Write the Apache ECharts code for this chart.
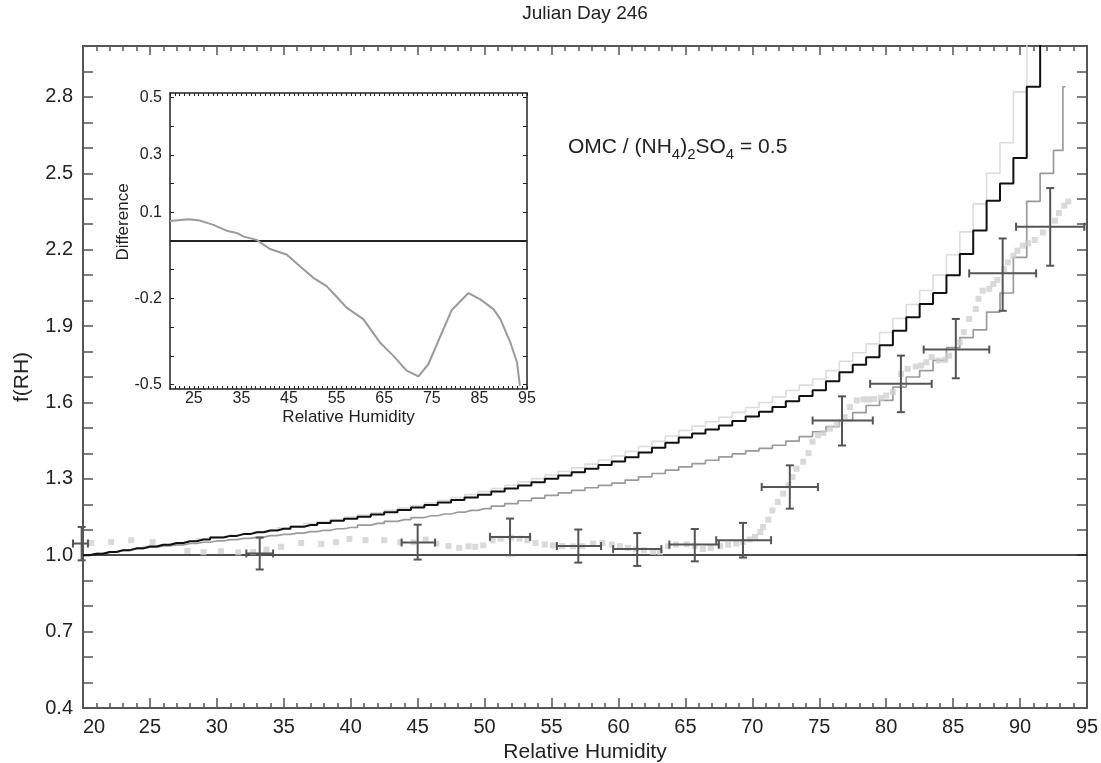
<!DOCTYPE html>
<html><head><meta charset="utf-8">
<script src="https://cdn.jsdelivr.net/npm/echarts@6/dist/echarts.min.js"></script>
<style>html,body{margin:0;padding:0;background:#fff}#c{width:1101px;height:763px}</style>
</head><body><div id="c"></div>
<script>
// ---------- data ----------
const rhGrid = [20,21,22,23,24,25,26,27,28,29,30,31,32,33,34,35,36,37,38,39,40,41,42,43,44,45,46,47,48,49,
  50,51,52,53,54,55,56,57,58,59,60,61,62,63,64,65,66,67,68,69,70,71,72,73,74,75,76,77,78,79,
  80,81,82,83,84,85,86,87,88,89,90,91,92,93];
const mediumRH = rhGrid.concat([93.4]);

const blackCurve = [1.000,1.006,1.013,1.020,1.027,1.034,1.041,1.048,1.055,1.062,
 1.070,1.076,1.083,1.090,1.097,1.104,1.112,1.119,1.127,1.135,
 1.143,1.151,1.160,1.169,1.178,1.187,1.197,1.207,1.217,1.227,
 1.238,1.250,1.262,1.274,1.287,1.300,1.313,1.326,1.340,1.354,
 1.368,1.385,1.403,1.422,1.442,1.462,1.478,1.494,1.510,1.527,
 1.545,1.564,1.582,1.605,1.625,1.648,1.683,1.719,1.748,1.778,
 1.825,1.882,1.935,1.987,2.030,2.100,2.183,2.275,2.392,2.460,
 2.560,2.840,3.050];

const lightCurve = [1.000,1.006,1.013,1.020,1.027,1.035,1.042,1.049,1.056,1.064,
 1.072,1.079,1.086,1.093,1.100,1.108,1.116,1.124,1.132,1.140,
 1.149,1.158,1.167,1.176,1.185,1.195,1.205,1.216,1.227,1.238,
 1.250,1.262,1.275,1.288,1.301,1.315,1.329,1.343,1.358,1.374,
 1.390,1.408,1.427,1.447,1.468,1.490,1.507,1.524,1.542,1.561,
 1.580,1.600,1.622,1.647,1.668,1.692,1.725,1.762,1.795,1.830,
 1.875,1.930,1.985,2.040,2.100,2.180,2.270,2.380,2.500,2.620,
 2.820,3.050];

const mediumCurve = [1.000,1.006,1.012,1.019,1.026,1.032,1.037,1.041,1.046,1.051,
 1.056,1.061,1.066,1.071,1.077,1.082,1.087,1.093,1.098,1.104,
 1.109,1.118,1.125,1.133,1.140,1.148,1.155,1.162,1.169,1.176,
 1.183,1.193,1.203,1.214,1.224,1.235,1.245,1.255,1.265,1.274,
 1.283,1.295,1.308,1.321,1.334,1.347,1.360,1.373,1.386,1.398,
 1.410,1.420,1.432,1.448,1.466,1.485,1.505,1.530,1.560,1.588,
 1.608,1.660,1.700,1.725,1.765,1.815,1.855,1.885,1.955,2.030,
 2.170,2.390,2.500,2.590,2.840];

// measured f(RH) points [RH, f]
const measured = [
 [20.6,1.048],[22.1,1.052],[23.6,1.059],[25.2,1.052],[27.8,1.017],[29.0,1.012],[30.3,1.016],[31.6,1.011],
 [32.7,1.013],[33.7,1.022],[34.8,1.033],[36.3,1.048],[37.8,1.044],[38.9,1.051],[39.9,1.064],[41.1,1.059],
 [42.5,1.059],[43.7,1.051],[44.7,1.051],[45.6,1.062],[46.4,1.046],[47.3,1.036],[48.1,1.029],[48.8,1.035],
 [49.3,1.033],[49.9,1.039],[50.6,1.059],[51.2,1.065],[52.0,1.069],[52.6,1.065],[53.2,1.059],[53.8,1.048],
 [54.5,1.042],[55.1,1.039],[55.8,1.036],[56.6,1.035],[57.3,1.036],[58.1,1.046],[58.8,1.048],[59.5,1.042],
 [60.1,1.036],[60.7,1.029],[61.3,1.024],[61.9,1.020],[62.6,1.013],[63.1,1.012],[63.7,1.035],[64.3,1.042],
 [65.1,1.043],[65.7,1.036],[66.3,1.024],[66.9,1.029],[67.6,1.036],[68.2,1.042],[68.8,1.046],[69.3,1.052],
 [69.8,1.062],[70.2,1.072],[70.6,1.091],[70.8,1.111],[71.2,1.140],[71.5,1.176],[71.9,1.209],[72.3,1.242],
 [72.7,1.275],[73.0,1.307],[73.3,1.340],[73.8,1.367],[74.2,1.401],[74.5,1.446],[74.9,1.471],[75.3,1.480],
 [75.8,1.497],[76.3,1.514],[76.9,1.542],[77.3,1.582],[77.8,1.608],[78.3,1.612],[78.7,1.612],[79.1,1.614],
 [79.6,1.618],[80.0,1.627],[80.5,1.640],[81.1,1.712],[81.6,1.732],[82.2,1.741],[82.6,1.745],[83.0,1.758],
 [83.4,1.778],[83.9,1.765],[84.4,1.767],[84.7,1.784],[85.5,1.836],[85.8,1.876],[86.2,1.928],[86.7,1.967],
 [86.9,2.007],[87.2,2.039],[87.7,2.046],[88.0,2.065],[88.3,2.081],[88.8,2.124],[89.1,2.150],[89.5,2.176],
 [89.8,2.196],[90.2,2.216],[90.6,2.225],[91.1,2.238],[91.7,2.268],[92.6,2.314],[92.9,2.344],[93.3,2.373],
 [93.6,2.389]
];

// error crosses [RH, f, RHlow, RHhigh, fLow, fHigh]
const errorBars = [
 [19.9,1.046,19.25,20.37,0.980,1.111],
 [33.2,1.007,32.2,34.2,0.944,1.069],
 [45.0,1.050,43.8,46.3,0.983,1.120],
 [51.9,1.072,50.4,53.4,1.000,1.144],
 [57.0,1.036,55.4,58.7,0.971,1.101],
 [61.4,1.024,59.6,63.2,0.958,1.087],
 [65.7,1.042,63.8,67.5,0.976,1.103],
 [69.3,1.059,67.3,71.4,0.991,1.127],
 [72.8,1.268,70.7,74.9,1.183,1.353],
 [76.7,1.529,74.5,79.0,1.431,1.624],
 [81.1,1.673,78.8,83.4,1.562,1.784],
 [85.2,1.808,82.8,87.7,1.695,1.928],
 [88.7,2.107,86.2,91.2,1.960,2.244],
 [92.25,2.290,89.7,94.8,2.137,2.442]
];

// inset difference curve [RH, difference]
const difference = [
 [20,0.070],[23.9,0.076],[26.3,0.071],[29.1,0.056],[31.9,0.036],[34.0,0.028],[35.4,0.016],[38.2,0.004],
 [41.0,-0.028],[44.5,-0.047],[47.3,-0.088],[50.1,-0.128],[52.9,-0.157],[55.0,-0.194],[57.1,-0.232],
 [60.6,-0.272],[64.1,-0.353],[66.9,-0.399],[69.7,-0.451],[72.2,-0.471],[74.3,-0.428],[76.4,-0.347],
 [79.2,-0.240],[82.7,-0.181],[85.2,-0.203],[88.0,-0.238],[89.4,-0.272],[91.5,-0.353],[92.9,-0.422],[93.5,-0.503]
];

const yTickLabels = [0.4,0.7,1.0,1.3,1.6,1.9,2.2,2.5,2.8];
const insetYTicks = [-0.5,-0.4,-0.3,-0.2,-0.1,0,0.1,0.2,0.3,0.4,0.5];
const insetYLabels = [0.5,0.3,0.1,-0.2,-0.5];
const insetXLabels = [25,35,45,55,65,75,85,95];

// ---------- chart ----------
const FONT = '"Liberation Sans", Arial, Helvetica, sans-serif';
const TXT = '#222';
const AX = '#555';
const pairs = (xs, ys) => ys.map((v, i) => [xs[i], v]);

const chart = echarts.init(document.getElementById('c'), null, {renderer: 'canvas'});

const mainAxisLine = {show: true, onZero: false, lineStyle: {color: AX, width: 2}};
const insetAxisLine = {show: true, onZero: false, lineStyle: {color: '#222', width: 1.5}};

chart.setOption({
  animation: false,
  backgroundColor: '#fff',
  textStyle: {fontFamily: FONT},
  grid: [
    {left: 83, top: 46, width: 1004, height: 662, outerBoundsMode: 'none', containLabel: false},
    {left: 170, top: 93, width: 357, height: 296, outerBoundsMode: 'none', containLabel: false,
     show: true, backgroundColor: '#fff', borderWidth: 0}
  ],
  xAxis: [
    {type: 'value', gridIndex: 0, min: 20, max: 95, interval: 5, position: 'bottom',
     axisLine: mainAxisLine,
     axisTick: {show: true, inside: true, length: 10, lineStyle: {color: AX, width: 1.5}},
     minorTick: {show: true, splitNumber: 5, length: 5, lineStyle: {color: AX, width: 1.5}},
     splitLine: {show: false},
     axisLabel: {color: TXT, fontSize: 20, fontFamily: FONT, margin: 9, showMinLabel: true, showMaxLabel: true, alignMinLabel: 'left'},
     name: 'Relative Humidity', nameLocation: 'middle', nameGap: 34,
     nameTextStyle: {color: TXT, fontSize: 21, fontFamily: FONT}},
    {type: 'value', gridIndex: 0, min: 20, max: 95, interval: 5, position: 'top',
     axisLine: mainAxisLine,
     axisTick: {show: true, inside: true, length: 9, lineStyle: {color: AX, width: 1.5}},
     minorTick: {show: true, splitNumber: 5, length: 5, lineStyle: {color: AX, width: 1.5}},
     splitLine: {show: false}, axisLabel: {show: false}},
    {type: 'value', gridIndex: 1, min: 20, max: 95, interval: 5, position: 'bottom',
     axisLine: insetAxisLine,
     axisTick: {show: true, inside: true, length: 3, lineStyle: {color: '#222', width: 1}},
     minorTick: {show: true, splitNumber: 5, length: 3, lineStyle: {color: '#222', width: 1}},
     splitLine: {show: false},
     axisLabel: {color: TXT, fontSize: 16, fontFamily: FONT, margin: 2, customValues: insetXLabels},
     name: 'Relative Humidity', nameLocation: 'middle', nameGap: 20,
     nameTextStyle: {color: TXT, fontSize: 17, fontFamily: FONT}},
    {type: 'value', gridIndex: 1, min: 20, max: 95, interval: 5, position: 'top',
     axisLine: insetAxisLine,
     axisTick: {show: true, inside: true, length: 3, lineStyle: {color: '#222', width: 1}},
     minorTick: {show: true, splitNumber: 5, length: 3, lineStyle: {color: '#222', width: 1}},
     splitLine: {show: false}, axisLabel: {show: false}}
  ],
  yAxis: [
    {type: 'value', gridIndex: 0, min: 0.4, max: 3.0, interval: 0.1, position: 'left',
     axisLine: mainAxisLine,
     axisTick: {show: true, inside: true, length: 10, lineStyle: {color: AX, width: 1.5}},
     splitLine: {show: false},
     axisLabel: {color: TXT, fontSize: 20, fontFamily: FONT, margin: 10, customValues: yTickLabels,
                 formatter: v => v.toFixed(1)},
     name: 'f(RH)', nameLocation: 'middle', nameGap: 50,
     nameTextStyle: {color: TXT, fontSize: 21, fontFamily: FONT}},
    {type: 'value', gridIndex: 0, min: 0.4, max: 3.0, interval: 0.1, position: 'right',
     axisLine: mainAxisLine,
     axisTick: {show: true, inside: true, length: 10, lineStyle: {color: AX, width: 1.5}},
     splitLine: {show: false}, axisLabel: {show: false}},
    {type: 'value', gridIndex: 1, min: -0.515, max: 0.515, position: 'left',
     axisLine: insetAxisLine,
     axisTick: {show: true, inside: true, length: 4, customValues: insetYTicks, lineStyle: {color: '#222', width: 1}},
     splitLine: {show: false},
     axisLabel: {color: TXT, fontSize: 16, fontFamily: FONT, margin: 8, customValues: insetYLabels,
                 formatter: v => v.toFixed(1)}},
    {type: 'value', gridIndex: 1, min: -0.515, max: 0.515, position: 'right',
     axisLine: insetAxisLine,
     axisTick: {show: true, inside: true, length: 4, customValues: insetYTicks, lineStyle: {color: '#222', width: 1}},
     splitLine: {show: false}, axisLabel: {show: false}}
  ],
  graphic: [
    {type: 'text', x: 585, y: 14, z: 100,
     style: {text: 'Julian Day 246', fill: TXT, font: '19px ' + FONT, align: 'center', verticalAlign: 'middle'}},
    {type: 'text', x: 123, y: 222, rotation: Math.PI / 2, z: 100,
     style: {text: 'Difference', fill: TXT, font: '17px ' + FONT, align: 'center', verticalAlign: 'middle'}},
    {type: 'text', x: 568, y: 147, z: 100,
     style: {text: 'OMC / (NH{s|4}){s|2}SO{s|4} = 0.5', fill: TXT, fontSize: 21, fontFamily: FONT,
             lineHeight: 30, align: 'left', verticalAlign: 'middle',
             rich: {s: {fontSize: 15, fontFamily: FONT, fill: TXT, padding: [16, 0, 0, 0], lineHeight: 14}}}}
  ],
  series: [
    {type: 'line', name: 'light', xAxisIndex: 0, yAxisIndex: 0, data: pairs(rhGrid, lightCurve),
     step: 'middle', showSymbol: false, symbol: 'none', lineStyle: {color: '#dcdcdc', width: 1.6}, z: 2,
     markLine: {silent: true, symbol: 'none', label: {show: false},
                lineStyle: {color: '#111', width: 1.5, type: 'solid'}, data: [{yAxis: 1.0}]}},
    {type: 'line', name: 'medium', xAxisIndex: 0, yAxisIndex: 0, data: pairs(mediumRH, mediumCurve),
     step: 'middle', showSymbol: false, symbol: 'none', lineStyle: {color: '#9a9a9a', width: 1.7}, z: 3},
    {type: 'line', name: 'black', xAxisIndex: 0, yAxisIndex: 0, data: pairs(rhGrid, blackCurve),
     step: 'middle', showSymbol: false, symbol: 'none', lineStyle: {color: '#111', width: 2}, z: 4},
    {type: 'scatter', name: 'measured', xAxisIndex: 0, yAxisIndex: 0, data: measured,
     symbol: 'rect', symbolSize: 6, itemStyle: {color: '#d0d0d0'}, z: 5},
    {type: 'custom', name: 'errors', xAxisIndex: 0, yAxisIndex: 0, data: errorBars, z: 6, clip: false,
     encode: {x: [0, 2, 3], y: [1, 4, 5]},
     renderItem: function (params, api) {
       const x = api.value(0), y = api.value(1);
       const l = api.coord([api.value(2), y]), r = api.coord([api.value(3), y]);
       const b = api.coord([x, api.value(4)]), t = api.coord([x, api.value(5)]);
       const cap = 4;
       const st = {stroke: '#555', lineWidth: 2};
       const ln = (x1, y1, x2, y2) => ({type: 'line', shape: {x1, y1, x2, y2}, style: st});
       return {type: 'group', children: [
         ln(l[0], l[1], r[0], r[1]),
         ln(l[0], l[1] - cap, l[0], l[1] + cap),
         ln(r[0], r[1] - cap, r[0], r[1] + cap),
         ln(b[0], b[1], t[0], t[1]),
         ln(b[0] - cap, b[1], b[0] + cap, b[1]),
         ln(t[0] - cap, t[1], t[0] + cap, t[1])
       ]};
     }},
    {type: 'line', name: 'difference', xAxisIndex: 2, yAxisIndex: 2, data: difference,
     showSymbol: false, symbol: 'none', lineStyle: {color: '#9a9a9a', width: 2}, z: 10,
     markLine: {silent: true, symbol: 'none', label: {show: false},
                lineStyle: {color: '#222', width: 2, type: 'solid'}, data: [{yAxis: 0}]}}
  ]
});
</script>
</body></html>
